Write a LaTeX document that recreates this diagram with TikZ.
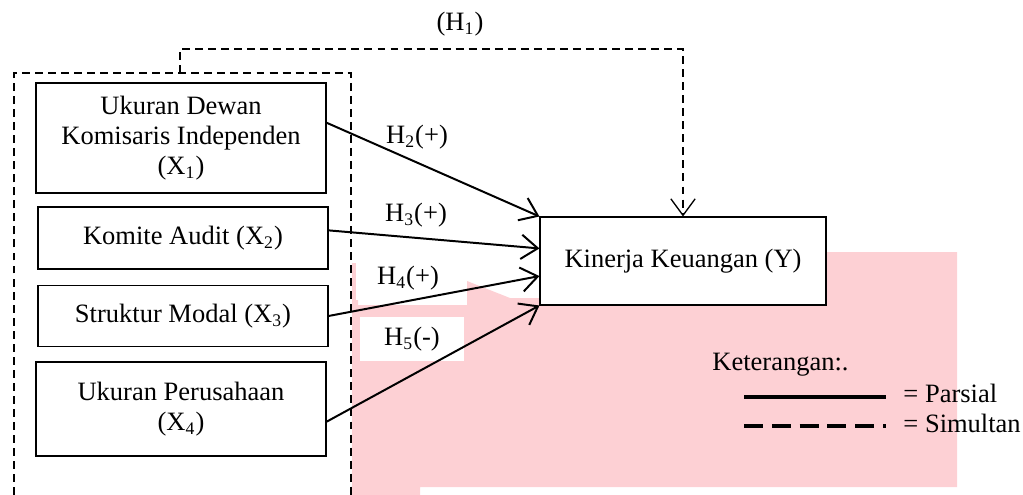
\documentclass[tikz,border=0pt]{standalone}
\usepackage{fontspec}
\setmainfont{Liberation Serif}
\usetikzlibrary{arrows.meta}
\definecolor{wmpink}{RGB}{253,208,212}
\tikzstyle{varbox} = [rectangle, minimum width=131.3pt, text centered, align=center, draw=black, line width=0.5pt, fill=white, inner sep=2pt]
\tikzstyle{hlabel} = [fill=white, minimum width=47pt, minimum height=20pt, inner sep=0pt]
\tikzstyle{plain} = [inner sep=0pt, anchor=base west]
\tikzstyle{arrow} = [line width=0.9pt, -{Straight Barb[length=7.5pt, width=11pt, line width=0.9pt]}]
\tikzstyle{simul} = [line width=0.6pt, dash pattern=on 3.6pt off 2.3pt]
\tikzstyle{simularrow} = [simul, -{Straight Barb[length=7.5pt, width=11pt, line width=0.6pt]}]

\begin{document}
\begin{tikzpicture}[x=0.4528pt, y=-0.4528pt, font=\fontsize{12}{13.6}\selectfont]
\useasboundingbox (0,0) rectangle (1023,495);
% background mark
\fill [wmpink] (352,263) -- (358,263) -- (358,305) -- (467,305) -- (467,281) -- (510,298) -- (600,298) -- (600,252) -- (957,252) -- (957,487) -- (420,487) -- (420,495) -- (352,495) -- cycle;
% frame of the independent variables
\coordinate (fl) at (14,495);
\coordinate (fr) at (351,495);
\coordinate (fk) at (180,73);
\draw [simul] (fl) |- (fk) -| (fr);
% variables
\node (x1) [varbox, minimum height=49.8pt] at (181,138) {Ukuran Dewan\\Komisaris Independen\\(X\textsubscript{1})};
\node (x2) [varbox, minimum height=28.1pt] at (183,238) {Komite Audit (X\textsubscript{2})};
\node (x3) [varbox, minimum height=27.6pt] at (183,316) {Struktur Modal (X\textsubscript{3})};
\node (x4) [varbox, minimum height=42.6pt] at (181,409) {Ukuran Perusahaan\\(X\textsubscript{4})};
\node (y) [varbox, minimum width=129.5pt, minimum height=39.8pt] at (683,261) {Kinerja Keuangan (Y)};
% hypotheses
\node (h1) at (460,24) {(H\textsubscript{1})};
\node (h2) [hlabel] at (417,137) {H\textsubscript{2}(+)};
\node (h3) [hlabel] at (416,215) {H\textsubscript{3}(+)};
\node (h4) [hlabel] at (408,278) {H\textsubscript{4}(+)};
\node (h5) [hlabel] at (412,339) {H\textsubscript{5}(-)};
\draw [simularrow] (fk) -- (180,49) -| (y.north);
\draw [arrow] (x1.6) -- (y.north west);
\draw [arrow] (x2.3) -- (y.175);
\draw [arrow] (x3.east) -- (y.186);
\draw [arrow] (x4.-5) -- (y.south west);
% legend
\node (ket) [plain] at (712,370) {Keterangan:.};
\node (parsial) [plain] at (903,402) {= Parsial};
\node (simultan) [plain] at (903,432) {= Simultan};
\coordinate (lp) at (744,397);
\coordinate (ls) at (744,426);
\draw [line width=1.8pt] (lp) -- ++(142,0);
\draw [line width=1.8pt, dash pattern=on 8.6pt off 4pt] (ls) -- ++(142,0);
\end{tikzpicture}
\end{document}
